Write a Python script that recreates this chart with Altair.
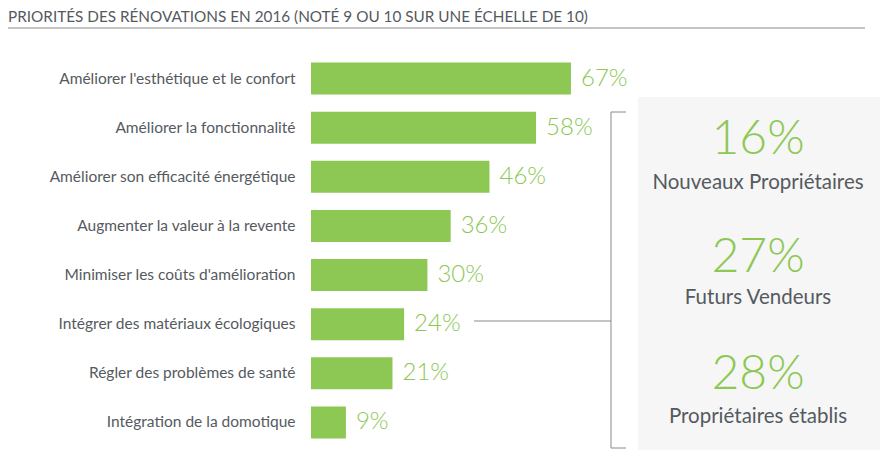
import altair as alt
import pandas as pd

title_text = "PRIORITÉS DES RÉNOVATIONS EN 2016 (NOTÉ 9 OU 10 SUR UNE ÉCHELLE DE 10)"
categories = [
    "Améliorer l'esthétique et le confort",
    "Améliorer la fonctionnalité",
    "Améliorer son efficacité énergétique",
    "Augmenter la valeur à la revente",
    "Minimiser les coûts d'amélioration",
    "Intégrer des matériaux écologiques",
    "Régler des problèmes de santé",
    "Intégration de la domotique",
]
values = [67, 58, 46, 36, 30, 24, 21, 9]
panel_values = ["16%", "27%", "28%"]
panel_groups = ["Nouveaux Propriétaires", "Futurs Vendeurs", "Propriétaires établis"]

df = pd.DataFrame({"cat": categories, "val": values, "label": [f"{v}%" for v in values]})
one = pd.DataFrame({"k": [0]})

GREEN = "#8cc853"
GREY_TXT = "#555a60"
LINE = "#8a8a8a"
FONT = "Lato"

y = alt.Y(
    "cat:N",
    sort=categories,
    scale=alt.Scale(paddingInner=0.35, paddingOuter=0.175),
    axis=alt.Axis(title=None, ticks=False, domain=False, grid=False, labelPadding=16,
                  labelFontSize=15.5, labelColor=GREY_TXT, labelFont=FONT, labelLimit=400),
)
x = alt.X("val:Q", scale=alt.Scale(domain=[0, 100], nice=False, zero=True), axis=None)

panel = alt.Chart(one).mark_rect(color="#f6f6f6").encode(
    x=alt.value(327), x2=alt.value(569), y=alt.value(43), y2=alt.value(399))

bars = alt.Chart(df).mark_bar(color=GREEN).encode(x=x, y=y)
vals = alt.Chart(df).mark_text(align="left", baseline="middle", dx=10, fontSize=24,
                               font=FONT, fontWeight=300, color=GREEN).encode(
    x=x, y=y, text="label:N")

title = alt.Chart(one).mark_text(text=title_text, align="left", baseline="alphabetic",
                                 fontSize=15.3, font=FONT, color=GREY_TXT).encode(
    x=alt.value(-303), y=alt.value(-32))
title_rule = alt.Chart(one).mark_rule(color=LINE, strokeWidth=1).encode(
    x=alt.value(-305), x2=alt.value(554), y=alt.value(-26))

br_v = alt.Chart(one).mark_rule(color=LINE, strokeWidth=1).encode(
    x=alt.value(300), y=alt.value(58), y2=alt.value(394))
br_t = alt.Chart(one).mark_rule(color=LINE, strokeWidth=1).encode(
    x=alt.value(300), x2=alt.value(315), y=alt.value(58))
br_b = alt.Chart(one).mark_rule(color=LINE, strokeWidth=1).encode(
    x=alt.value(300), x2=alt.value(315), y=alt.value(394))
br_h = alt.Chart(one).mark_rule(color=LINE, strokeWidth=1).encode(
    x=alt.value(163), x2=alt.value(300), y=alt.value(267))

num_y = [86, 204, 321]
grp_y = [129, 244, 363]
panel_layers = []
for i in range(3):
    panel_layers.append(
        alt.Chart(one).mark_text(text=panel_values[i], align="center", baseline="middle",
                                 fontSize=48, font=FONT, fontWeight=300, color=GREEN).encode(
            x=alt.value(447), y=alt.value(num_y[i])))
    panel_layers.append(
        alt.Chart(one).mark_text(text=panel_groups[i], align="center", baseline="middle",
                                 fontSize=20.5, font=FONT, color=GREY_TXT).encode(
            x=alt.value(447), y=alt.value(grp_y[i])))

chart = alt.layer(panel, bars, vals, title, title_rule, br_v, br_t, br_b, br_h, *panel_layers).properties(
    width=388, height=393,
    autosize=alt.AutoSizeParams(type="none"),
    padding={"left": 303, "top": 46, "right": 181, "bottom": 3},
).configure_view(stroke=None)

chart.save("out.html", embed_options={"renderer": "svg", "actions": False})
